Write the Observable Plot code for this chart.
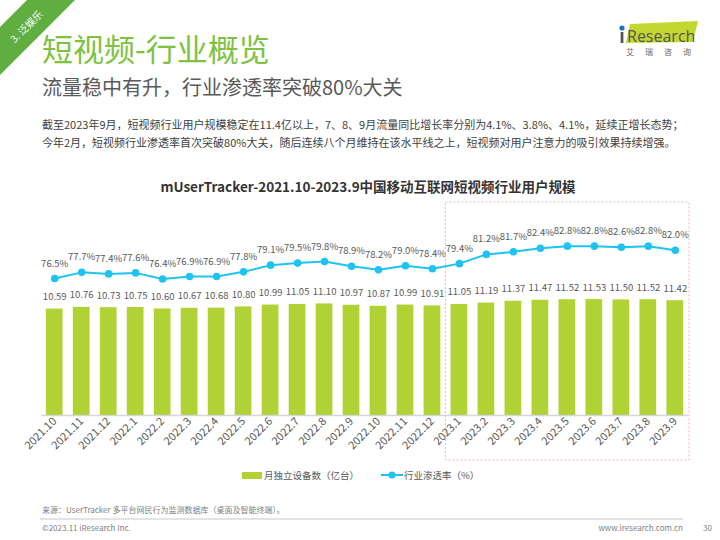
<!DOCTYPE html>
<html><head><meta charset="utf-8">
<script src="https://cdn.jsdelivr.net/npm/d3@7"></script>
<script src="https://cdn.jsdelivr.net/npm/@observablehq/plot@0.6"></script>
<style>
body{margin:0;width:720px;height:540px;position:relative;background:#fff;font-family:"Noto Sans CJK SC","Noto Sans",sans-serif;overflow:hidden}
.abs{position:absolute;white-space:nowrap}
</style></head><body>
<svg class="abs" style="left:0;top:0" width="80" height="80">
  <polygon points="27,0 75,0 0,75 0,27" fill="#5fae3f"/>
  <text x="26" y="26" transform="rotate(-45 26 26)" text-anchor="middle" dominant-baseline="central" fill="#fff" font-size="10" font-family="Noto Sans CJK SC">3. 泛娱乐</text>
</svg>
<svg class="abs" style="top:0;left:600px" width="120" height="64">
  <polygon points="30,24 98,21 93,42 26,43" fill="#c3d82e"/>
  <circle cx="22" cy="28" r="2.6" fill="#1f6fc1"/>
  <rect x="20.6" y="32" width="2.8" height="11" fill="#555"/>
  <text x="27" y="42" fill="#555" font-size="16" font-family="Open Sans, sans-serif">Research</text>
  <text x="26" y="55" fill="#666" font-size="8" letter-spacing="11" font-family="Noto Sans CJK SC">艾瑞咨询</text>
</svg>
<div class="abs" style="left:42px;top:32px;font-size:31px;line-height:31px;color:#7dc242">短视频-行业概览</div>
<div class="abs" style="left:42px;top:77px;font-size:20px;line-height:20px;color:#595959">流量稳中有升，行业渗透率突破80%大关</div>
<div class="abs" style="left:42px;top:115px;font-size:11px;line-height:18px;color:#404040">截至2023年9月，短视频行业用户规模稳定在11.4亿以上，7、8、9月流量同比增长率分别为4.1%、3.8%、4.1%，延续正增长态势；<br>今年2月，短视频行业渗透率首次突破80%大关，随后连续八个月维持在该水平线之上，短视频对用户注意力的吸引效果持续增强。</div>
<div class="abs" style="left:8px;width:720px;text-align:center;top:178px;font-size:13.5px;line-height:16px;font-weight:bold;color:#333">mUserTracker-2021.10-2023.9中国移动互联网短视频行业用户规模</div>
<div id="chart" class="abs" style="left:0;top:200px"></div>
<div class="abs" style="left:242px;top:468px;height:14px;display:flex;align-items:center;font-size:9.5px;color:#595959">
  <span style="display:inline-block;width:20px;height:7px;background:#b1d235;margin-right:2px"></span><span>月独立设备数（亿台）</span>
  <svg width="22" height="10" style="margin-left:22px;margin-right:1px"><line x1="0" y1="5" x2="22" y2="5" stroke="#1ec3f2" stroke-width="2"/><circle cx="11" cy="5" r="3.5" fill="#1ec3f2"/></svg><span>行业渗透率（%）</span>
</div>
<div class="abs" style="left:42px;top:504px;font-size:8px;line-height:12px;color:#808080">来源：UserTracker 多平台网民行为监测数据库（桌面及智能终端）。</div>
<div class="abs" style="left:40px;top:518px;width:643px;height:2px;background:#e3e3e3"></div>
<div class="abs" style="left:42px;top:522px;font-size:8px;line-height:12px;color:#808080">©2023.11 iResearch Inc.</div>
<div class="abs" style="right:37px;top:522px;font-size:8px;line-height:12px;color:#808080">www.iresearch.com.cn</div>
<div class="abs" style="left:703px;top:522px;font-size:8px;line-height:12px;color:#808080">30</div>
<script>
const months = ["2021.10","2021.11","2021.12","2022.1","2022.2","2022.3","2022.4","2022.5","2022.6","2022.7","2022.8","2022.9","2022.10","2022.11","2022.12","2023.1","2023.2","2023.3","2023.4","2023.5","2023.6","2023.7","2023.8","2023.9"];
const users = [10.59,10.76,10.73,10.75,10.60,10.67,10.68,10.80,10.99,11.05,11.10,10.97,10.87,10.99,10.91,11.05,11.19,11.37,11.47,11.52,11.53,11.50,11.52,11.42];
const penetration = [76.5,77.7,77.4,77.6,76.4,76.9,76.9,77.8,79.1,79.5,79.8,78.9,78.2,79.0,78.4,79.4,81.2,81.7,82.4,82.8,82.8,82.6,82.8,82.0];
const highlightStart = "2023.1";

const data = months.map((m, i) => ({month: m, users: users[i], pen: penetration[i]}));
// secondary axis: map penetration (%) onto bar units
const toBar = p => 16.85 + 0.5114 * (p - 82.8);
const PI = 0.38, PO = 0.18;
const BAR = "#b1d235", LINE = "#1ec3f2", LABEL = "#595959";
const hasAxisMark = typeof Plot.axisX === "function";

const chart = Plot.plot({
  width: 720, height: 270,
  marginTop: 14, marginBottom: 55, marginLeft: 41, marginRight: 32,
  x: Object.assign({domain: months, paddingInner: PI, paddingOuter: PO, round: false, label: null},
    hasAxisMark ? {axis: null} : {tickSize: 0, tickPadding: 4, tickRotate: -45}),
  y: {domain: [0, 20], axis: null},
  style: {fontFamily: "Noto Sans CJK SC, Noto Sans, sans-serif", fontSize: "11px", color: LABEL, background: "transparent"},
  marks: [
    Plot.barY(data, {x: "month", y: "users", fill: BAR}),
    Plot.ruleY([0], {stroke: "#d6d6d6", strokeWidth: 1.3}),
    hasAxisMark ? Plot.axisX({tickSize: 0, tickPadding: 4, tickRotate: -45, fontSize: 11, fill: LABEL, label: null}) : null,
    Plot.text(data, {x: "month", y: "users", text: d => d.users.toFixed(2), dy: -12, fill: LABEL, fontSize: 9.5}),
    Plot.lineY(data, {x: "month", y: d => toBar(d.pen), stroke: LINE, strokeWidth: 2}),
    Plot.dot(data, {x: "month", y: d => toBar(d.pen), r: 3.8, fill: LINE}),
    Plot.text(data, {x: "month", y: d => toBar(d.pen), text: d => d.pen.toFixed(1) + "%", dy: -15, fill: LABEL, fontSize: 9.5})
  ]
});
document.getElementById("chart").appendChild(chart);

const xs = chart.scale("x");
const step = xs.step || xs.bandwidth / (1 - PI);
const gap = step - xs.bandwidth;
const bx0 = xs.apply(highlightStart) - gap / 2;
const bx1 = xs.range[1] + 1;
d3.select(chart).append("rect")
  .attr("x", bx0).attr("y", 2).attr("width", bx1 - bx0).attr("height", 258)
  .attr("fill", "none").attr("stroke", "#f3b3b3").attr("stroke-dasharray", "2,2").attr("stroke-width", 1);
</script>
</body></html>
